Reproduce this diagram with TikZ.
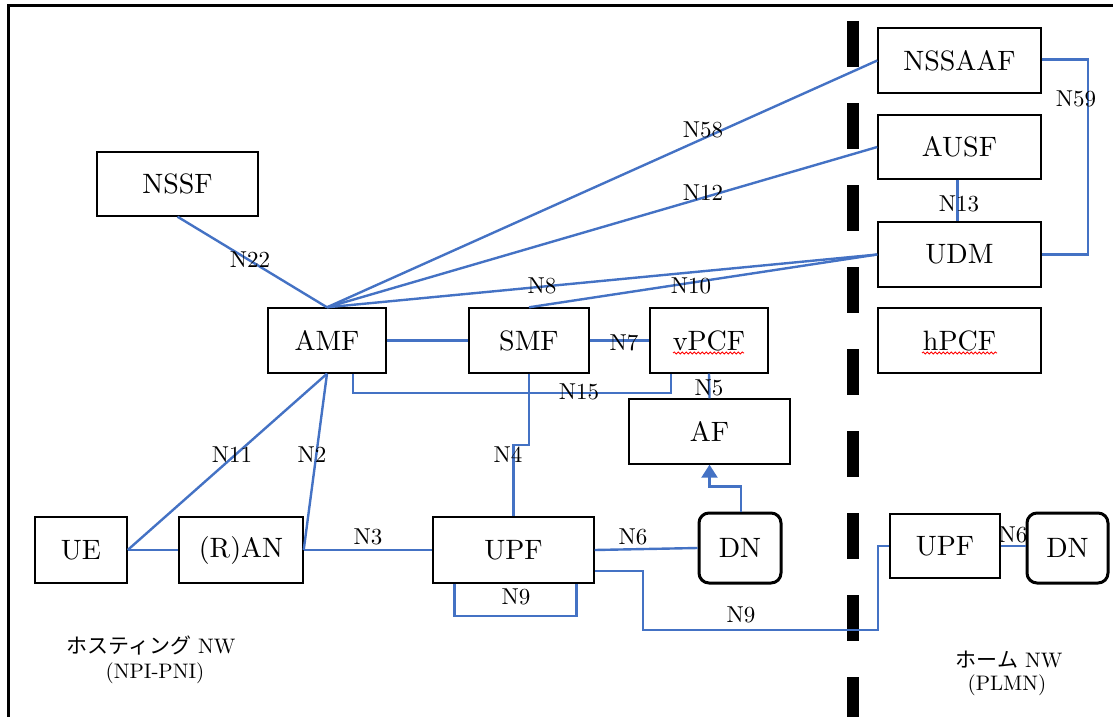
\documentclass[tikz,border=0pt]{standalone}
\usepackage{fontspec}
\setmainfont{lmroman10-regular.otf}
\newfontfamily\jpfont{Noto Sans CJK JP}
\usetikzlibrary{arrows.meta,decorations.pathmorphing}
\definecolor{linkblue}{RGB}{68,114,196}
\begin{document}
\begin{tikzpicture}[x=1pt,y=-1pt,
  nf/.style={draw=black,line width=1.4pt,fill=white,inner sep=0pt,
    font=\fontsize{28}{30}\selectfont},
  dnbox/.style={nf,rounded corners=10pt,line width=3pt},
  link/.style={draw=linkblue,line width=2.4pt},
  lbl/.style={inner sep=0pt,font=\fontsize{23}{25}\selectfont},
  nwlbl/.style={inner sep=0pt,font=\fontsize{21}{23}\selectfont},
  squiggle/.style={draw=red,line width=0.8pt,
    decorate,decoration={snake,amplitude=1.1pt,segment length=4pt}}]
\useasboundingbox (0,0) rectangle (1113,717);

% outer frame (top and left edges)
\draw[line width=3pt] (8,717) -- (8,6) -- (1113,6);

% border between hosting network and home network
\draw[line width=12pt,dash pattern=on 46pt off 36pt] (853,21) -- (853,740);

% network functions
\node[nf,minimum width=161pt,minimum height=64pt] (nssf) at (177.5,184) {NSSF};
\node[nf,minimum width=118pt,minimum height=65pt] (amf) at (327,340.5) {AMF};
\node[nf,minimum width=92pt,minimum height=66pt] (ue) at (81,550) {UE};
\node[nf,minimum width=124pt,minimum height=66pt] (ran) at (241,550) {(R)AN};
\node[nf,minimum width=120pt,minimum height=65pt] (smf) at (529,340.5) {SMF};
\node[nf,minimum width=118pt,minimum height=65pt] (vpcf) at (709,340.5) {vPCF};
\node[nf,minimum width=161pt,minimum height=65pt] (af) at (709.5,431.5) {AF};
\node[nf,minimum width=161pt,minimum height=66pt] (upf) at (513.5,550) {UPF};
\node[dnbox,minimum width=82pt,minimum height=70pt] (dn) at (740,548) {DN};
\node[nf,minimum width=163pt,minimum height=65pt] (nssaaf) at (959.5,60.5) {NSSAAF};
\node[nf,minimum width=163pt,minimum height=64pt] (ausf) at (959.5,147) {AUSF};
\node[nf,minimum width=163pt,minimum height=65pt] (udm) at (959.5,254.5) {UDM};
\node[nf,minimum width=163pt,minimum height=65pt] (hpcf) at (959.5,340.5) {hPCF};
\node[nf,minimum width=110pt,minimum height=64pt] (upfh) at (945,546) {UPF};
\node[dnbox,minimum width=81pt,minimum height=70pt] (dnh) at (1067.5,548) {DN};

% spell-check marks under the PCF names
\draw[squiggle] (673,353) -- (744,353);
\draw[squiggle] (922,353) -- (997,353);

% waypoints of the roaming N9 path
\coordinate (n9a) at (643,630);
\coordinate (n9b) at (878,630);

% reference points
\draw[link] (nssf.south) -- (amf.north);
\draw[link] (amf.north) -- (nssaaf.west);
\draw[link] (amf.north) -- (ausf.west);
\draw[link] (amf.north) -- (udm.west);
\draw[link] (smf.north) -- (udm.west);
\draw[link] (amf.east) -- (smf.west);
\draw[link] (smf.east) -- (vpcf.west);
\draw[link] ([xshift=26pt]amf.south) -- ++(0,19) -| ([xshift=-38pt]vpcf.south);
\draw[link] (vpcf.south) -- (af.north);
\draw[link] (smf.south) -- ++(0,71) -| (upf.north);
\draw[link,-{Triangle[width=16pt,length=13pt]}] ([xshift=1pt]dn.north) -- ++(0,-25) -| (af.south);
\draw[link] (upf.east) -- (dn.west);
\draw[link] ([xshift=-59pt]upf.south) -- ++(0,32) -| ([xshift=63pt]upf.south);
\draw[link] ([yshift=-21pt]upf.east) -| (n9a) -- (n9b) |- (upfh.west);
\draw[link] (upfh.east) -- (upfh.east -| dnh.west);
\draw[link] ([xshift=-2pt]ausf.south) -- ([xshift=-2pt]udm.north);
\draw[link] ([yshift=1pt]nssaaf.east) -- ++(46,0) |- (udm.east);
\draw[link] (ue.east) -- (ran.west);
\draw[link] (ue.east) -- (amf.south);
\draw[link] (ran.east) -- (amf.south);
\draw[link] (ran.east) -- (upf.west);

% interface labels
\node[lbl] (l22) at (250,260) {N22};
\node[lbl] (l58) at (703,130) {N58};
\node[lbl] (l12) at (703,193) {N12};
\node[lbl] (l8) at (542,286) {N8};
\node[lbl] (l10) at (691,286) {N10};
\node[lbl] (l7) at (624,343) {N7};
\node[lbl] (l15) at (579,392) {N15};
\node[lbl] (l5) at (709,388) {N5};
\node[lbl] (l4) at (508,455) {N4};
\node[lbl] (l6) at (633,537) {N6};
\node[lbl] (l9a) at (516,597) {N9};
\node[lbl] (l9b) at (741,615) {N9};
\node[lbl] (l6h) at (1013,535) {N6};
\node[lbl] (l13) at (959,204) {N13};
\node[lbl] (l59) at (1076,99) {N59};
\node[lbl] (l11) at (232,455) {N11};
\node[lbl] (l2) at (312,455) {N2};
\node[lbl] (l3) at (368,537) {N3};

% network names
\node[nwlbl] (host) at (151,645) {{\jpfont ホスティング} NW};
\node[nwlbl] (hostsub) at (155,673) {(NPI-PNI)};
\node[nwlbl] (home) at (1009,660) {{\jpfont ホーム} NW};
\node[nwlbl] (homesub) at (1007,685) {(PLMN)};
\end{tikzpicture}
\end{document}
